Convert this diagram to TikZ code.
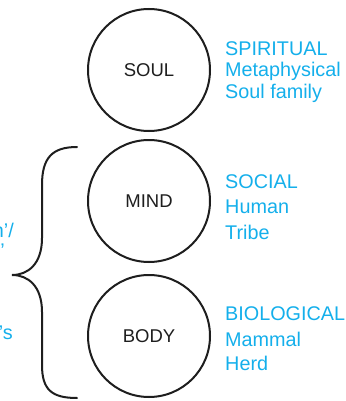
\documentclass[tikz,border=0pt]{standalone}
\usepackage{fontspec}
\setmainfont{Liberation Sans}
\definecolor{lblue}{RGB}{20,175,235}
\definecolor{ink}{RGB}{30,30,30}
\begin{document}
\begin{tikzpicture}[x=1pt,y=-1pt,
  realm/.style={circle,draw=ink,line width=2pt,minimum size=122pt,inner sep=0pt,
    font=\fontsize{18.5}{22}\selectfont,text=ink},
  lbl/.style={anchor=west,inner sep=0pt,text=lblue,font=\fontsize{19.8}{22}\selectfont},
  frag/.style={anchor=east,inner sep=0pt,text=lblue,font=\fontsize{19.8}{22}\selectfont}]
\useasboundingbox (0,0) rectangle (345,401);
\clip (0,0) rectangle (345,401);
\node[realm] (soul) at (149,70) {SOUL};
\node[realm] (mind) at (149,201) {MIND};
\node[realm] (body) at (149,336) {BODY};
% labels
\node[lbl] (s1) at (225,49) {SPIRITUAL};
\node[lbl] (s2) at (225,71) {Metaphysical};
\node[lbl] (s3) at (225,93) {Soul family};
\node[lbl] (m1) at (225,182) {SOCIAL};
\node[lbl] (m2) at (225,207) {Human};
\node[lbl] (m3) at (225,232) {Tribe};
\node[lbl] (b1) at (225,314) {BIOLOGICAL};
\node[lbl] (b2) at (225,339) {Mammal};
\node[lbl] (b3) at (225,363) {Herd};
% cut-off fragments at left
\node[frag] (f1) at (14,230) {n’/};
\node[frag] (f2) at (5,251) {’};
\node[frag] (f3) at (13,333) {’s};
% brace
\coordinate (bt) at (77,147);
\coordinate (tip) at (12,275);
\coordinate (bb) at (77,398);
\draw[ink,line width=2pt,line cap=round]
  (bt) .. controls (52,147) and (42,158) .. (42,185)
  -- (42,238) .. controls (42,264) and (28,275) .. (tip)
  .. controls (28,275) and (42,286) .. (42,312)
  -- (42,365) .. controls (42,390) and (52,398) .. (bb);
\end{tikzpicture}
\end{document}
